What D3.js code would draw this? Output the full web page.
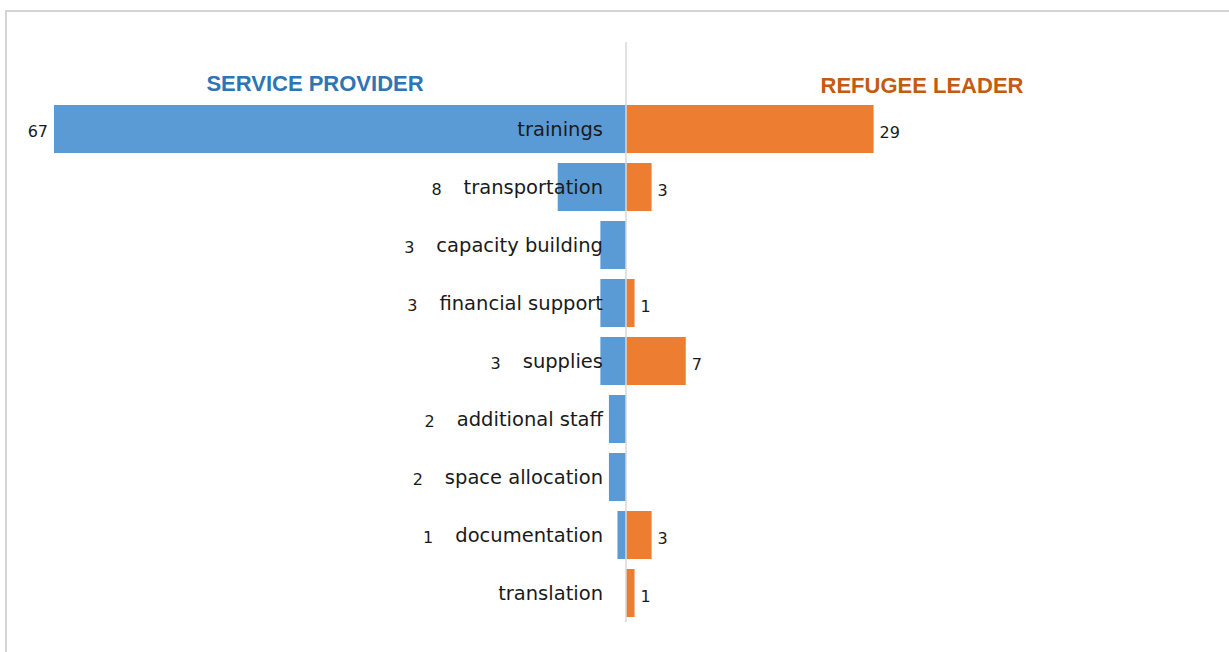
<!DOCTYPE html>
<html>
<head>
<meta charset="utf-8">
<script src="https://cdn.jsdelivr.net/npm/d3@7"></script>
<style>
  body { margin: 0; background: #fff; }
  svg { display: block; }
  .cat { font-family: "DejaVu Sans", sans-serif; font-size: 19.5px; fill: #1a1a1a; }
  .val { font-family: "DejaVu Sans", sans-serif; font-size: 16px; fill: #1a1a1a; }
  .title { font-family: "Liberation Sans", sans-serif; font-size: 22px; font-weight: bold; }
</style>
</head>
<body>
<div id="chart"></div>
<script>
// data
var categories = ["trainings", "transportation", "capacity building", "financial support",
    "supplies", "additional staff", "space allocation", "documentation", "translation"];
var serviceProvider = [67, 8, 3, 3, 3, 2, 2, 1, 0];
var refugeeLeader = [29, 3, 0, 1, 7, 0, 0, 3, 1];
var seriesNames = ["SERVICE PROVIDER", "REFUGEE LEADER"];

var svgWidth = 1229;
var svgHeight = 652;
var centerX = 626;

var svg = d3.select("#chart")
    .append("svg")
    .attr("width", svgWidth)
    .attr("height", svgHeight);

// frame of the chart area
svg.append("path")
    .attr("d", "M6," + svgHeight + " V11 H" + svgWidth)
    .attr("fill", "none")
    .attr("stroke", "#d4d4d4")
    .attr("stroke-width", 2);

// each side has its own scale, same units
var xLeft = d3.scaleLinear().domain([0, 67]).range([centerX, 54]);
var xRight = d3.scaleLinear().domain([0, 67]).range([centerX, centerX + 572]);

var y = d3.scaleBand()
    .domain(categories)
    .range([100, 622])
    .paddingInner(10 / 58)
    .paddingOuter(5 / 58);

// left bars
svg.append("g").selectAll("rect")
    .data(serviceProvider)
    .enter()
    .append("rect")
    .attr("x", d => xLeft(d))
    .attr("y", (d, i) => y(categories[i]))
    .attr("width", d => centerX - xLeft(d))
    .attr("height", y.bandwidth())
    .attr("fill", "#5b9bd5");

// right bars
svg.append("g").selectAll("rect")
    .data(refugeeLeader)
    .enter()
    .append("rect")
    .attr("x", centerX)
    .attr("y", (d, i) => y(categories[i]))
    .attr("width", d => xRight(d) - centerX)
    .attr("height", y.bandwidth())
    .attr("fill", "#ed7d31");

// centre axis line
svg.append("line")
    .attr("x1", centerX).attr("x2", centerX)
    .attr("y1", 42).attr("y2", 622)
    .attr("stroke", "#d9d9d9")
    .attr("stroke-width", 1.5);

// category names, right aligned just left of the axis
var catLabels = svg.append("g").selectAll("text")
    .data(categories)
    .enter()
    .append("text")
    .attr("class", "cat")
    .attr("x", centerX - 23)
    .attr("y", d => y(d) + y.bandwidth() / 2)
    .attr("dy", "0.35em")
    .attr("text-anchor", "end")
    .text(d => d);

// left value labels go before whichever is further left: bar end or label text
var labelStarts = [];
catLabels.each(function (d, i) {
    labelStarts[i] = centerX - 23 - this.getComputedTextLength();
});

serviceProvider.forEach(function (d, i) {
    if (d <= 0) return;
    var barStart = xLeft(d);
    var x = barStart < labelStarts[i] ? barStart - 6 : labelStarts[i] - 22;
    svg.append("text")
        .attr("class", "val")
        .attr("x", x)
        .attr("y", y(categories[i]) + y.bandwidth() / 2 + 2)
        .attr("dy", "0.35em")
        .attr("text-anchor", "end")
        .text(d);
});

// right value labels
refugeeLeader.forEach(function (d, i) {
    if (d <= 0) return;
    svg.append("text")
        .attr("class", "val")
        .attr("x", xRight(d) + 6)
        .attr("y", y(categories[i]) + y.bandwidth() / 2 + 3)
        .attr("dy", "0.35em")
        .text(d);
});

// series titles
svg.append("text")
    .attr("class", "title")
    .attr("x", 315)
    .attr("y", 91)
    .attr("text-anchor", "middle")
    .attr("fill", "#2e75b6")
    .text(seriesNames[0]);

svg.append("text")
    .attr("class", "title")
    .attr("x", 922)
    .attr("y", 93)
    .attr("text-anchor", "middle")
    .attr("fill", "#c55a11")
    .text(seriesNames[1]);
</script>
</body>
</html>
